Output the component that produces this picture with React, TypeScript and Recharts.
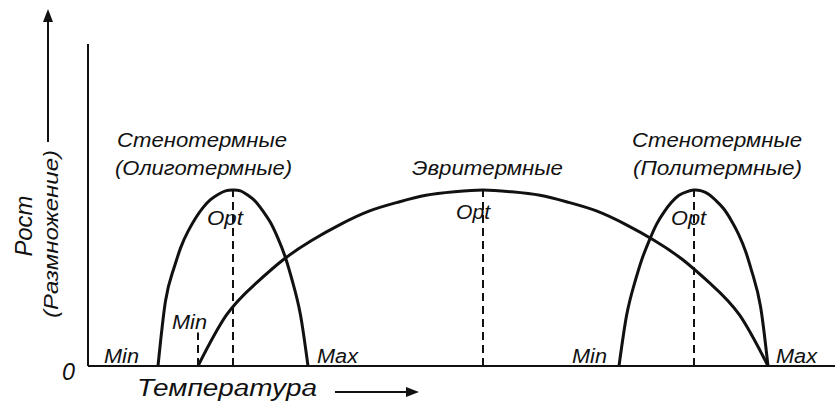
import React from 'react';
import { LineChart, Line, XAxis, YAxis, ReferenceDot, ReferenceLine } from 'recharts';

// temperature axis in chart units, growth where each optimum = 10
const coldX = [14, 15.5, 17, 18.5, 20, 21.5, 23, 24.5, 26, 27.5, 29, 30.5, 32, 33.5, 35, 36.5, 38, 39.5, 41, 42.5, 44];
const coldY = [0, 3.7, 5.4, 6.7, 7.65, 8.4, 9.0, 9.45, 9.75, 9.95, 10, 9.95, 9.7, 9.35, 8.8, 8.15, 7.25, 6.15, 4.7, 2.9, 0];

const euryX = [22, 27.7, 33.4, 39.1, 44.8, 50.5, 56.2, 61.9, 67.6, 73.3, 79, 84.7, 90.4, 96.1, 101.8, 107.5, 113.2, 118.9, 124.6, 130.3, 136];
const euryY = [0, 2.9, 4.65, 6.05, 7.15, 8.05, 8.8, 9.3, 9.7, 9.9, 10, 9.9, 9.7, 9.3, 8.8, 8.05, 7.15, 6.05, 4.65, 2.9, 0];

const warmX = [106.2, 107.7, 109.2, 110.7, 112.2, 113.7, 115.2, 116.7, 118.2, 119.7, 121.2, 122.7, 124.2, 125.6, 127.1, 128.6, 130.1, 131.6, 133, 134.5, 136];
const warmY = [0, 2.85, 4.6, 6.0, 7.1, 8.05, 8.75, 9.3, 9.7, 9.9, 10, 9.95, 9.75, 9.4, 8.95, 8.3, 7.5, 6.45, 5.15, 3.4, 0];

// dashed guide lines: [x, top]
const guides = [
  [29, 10],
  [22, 1.9],
  [79, 10],
  [121.2, 10],
];

const annotations = [
  { text: 'Стенотермные', x: 22.8, y: 12.44, len: 170 },
  { text: '(Олиготермные)', x: 23.1, y: 10.85, len: 177 },
  { text: 'Эвритермные', x: 79.9, y: 10.85, len: 151 },
  { text: 'Стенотермные', x: 125.8, y: 12.44, len: 170 },
  { text: '(Политермные)', x: 125.9, y: 10.85, len: 169 },
  { text: 'Opt', x: 27.4, y: 8.0, len: 36 },
  { text: 'Opt', x: 77, y: 8.35, len: 34 },
  { text: 'Opt', x: 120.1, y: 8.0, len: 35 },
  { text: 'Min', x: 6.7, y: 0.17, len: 35 },
  { text: 'Min', x: 20.3, y: 2.1, len: 35 },
  { text: 'Max', x: 49.9, y: 0.17, len: 41 },
  { text: 'Min', x: 100.3, y: 0.17, len: 35 },
  { text: 'Max', x: 141.7, y: 0.17, len: 41 },
];

const toPts = (xs: number[], ys: number[]) => xs.map((x, i) => ({ x, y: ys[i] }));

const INK = '#111';
const FONT = '"Liberation Sans", Arial, sans-serif';

export default function App() {
  return (
    <div style={{ position: 'absolute', left: 0, top: 0, width: 839, height: 404, background: '#fff' }}>
      <LineChart width={839} height={404} margin={{ top: 44, right: 4, bottom: 38, left: 88 }}>
        <XAxis type="number" dataKey="x" domain={[0, 149.4]} tick={false} tickLine={false} axisLine={false} height={0} />
        <YAxis type="number" domain={[0, 18.3]} tick={false} tickLine={false} axisLine={false} width={0} />
        <ReferenceLine x={0} stroke={INK} strokeWidth={2} />
        <ReferenceLine y={0} stroke={INK} strokeWidth={2} />
        {guides.map(([gx, top], i) => (
          <Line
            key={'g' + i}
            data={[{ x: gx, y: 0 }, { x: gx, y: top }]}
            dataKey="y"
            type="linear"
            stroke={INK}
            strokeWidth={2}
            strokeDasharray="8 5"
            dot={false}
            isAnimationActive={false}
          />
        ))}
        <Line data={toPts(coldX, coldY)} dataKey="y" type="natural" stroke={INK} strokeWidth={3} dot={false} isAnimationActive={false} />
        <Line data={toPts(euryX, euryY)} dataKey="y" type="natural" stroke={INK} strokeWidth={3} dot={false} isAnimationActive={false} />
        <Line data={toPts(warmX, warmY)} dataKey="y" type="natural" stroke={INK} strokeWidth={3} dot={false} isAnimationActive={false} />
        {annotations.map((a, i) => (
          <ReferenceDot
            key={'a' + i}
            x={a.x}
            y={a.y}
            r={1}
            shape={(p: any) => (
              <text
                x={p.cx}
                y={p.cy}
                textAnchor="middle"
                fontFamily={FONT}
                fontStyle="italic"
                fontSize={20}
                fill={INK}
                textLength={a.len}
                lengthAdjust="spacingAndGlyphs"
              >
                {a.text}
              </text>
            )}
          />
        ))}
      </LineChart>
      <svg
        width={839}
        height={404}
        style={{ position: 'absolute', left: 0, top: 0, pointerEvents: 'none' }}
      >
        <g fill={INK} fontFamily={FONT} fontStyle="italic">
          <text x={62} y={380} fontSize={23} textLength={13} lengthAdjust="spacingAndGlyphs">0</text>
          <text x={137} y={396} fontSize={23} textLength={180} lengthAdjust="spacingAndGlyphs">Температура</text>
          <text x={32} y={226} fontSize={24} textAnchor="middle" transform="rotate(-90 32 226)" textLength={61} lengthAdjust="spacingAndGlyphs">Рост</text>
          <text x={58} y={234} fontSize={21} textAnchor="middle" transform="rotate(-90 58 234)" textLength={168} lengthAdjust="spacingAndGlyphs">(Размножение)</text>
        </g>
        <line x1={335} y1={392} x2={408} y2={392} stroke={INK} strokeWidth={2} />
        <polygon points="419,392 406,387 406,397" fill={INK} />
        <line x1={48} y1={142} x2={48} y2={20} stroke={INK} strokeWidth={2} />
        <polygon points="48,9 43,22 53,22" fill={INK} />
      </svg>
    </div>
  );
}
